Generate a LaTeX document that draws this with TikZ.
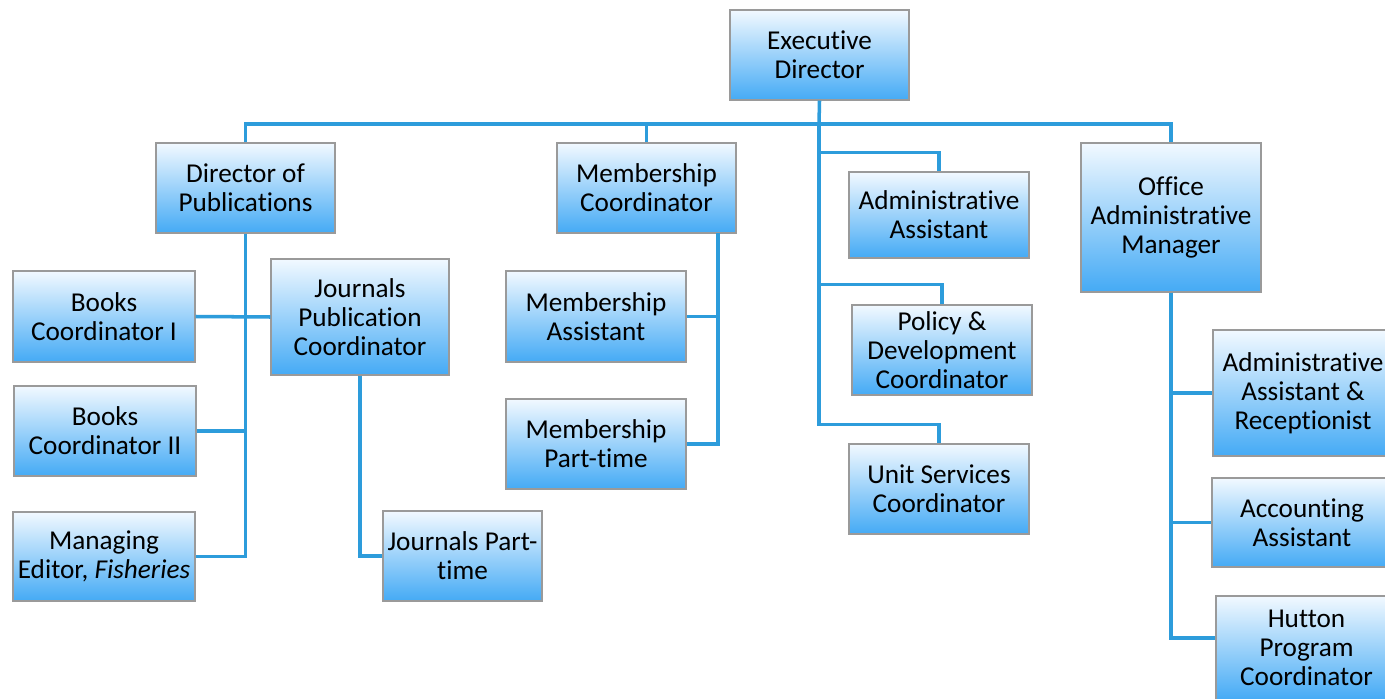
\documentclass[tikz,border=0pt]{standalone}
\usepackage{fontspec}
\setmainfont{Carlito}[Ligatures=NoCommon]
\usetikzlibrary{calc}
\definecolor{linkblue}{HTML}{2D9CDB}
\definecolor{boxtop}{HTML}{F2F9FF}
\definecolor{boxbot}{HTML}{44AAF5}
\definecolor{boxedge}{HTML}{9A9A9A}
\tikzset{
  orgnode/.style={draw=boxedge, line width=0.6pt, top color=boxtop, bottom color=boxbot,
    align=center, inner sep=0pt, font=\fontsize{15.5}{16.4}\selectfont},
  conn/.style={draw=linkblue, line width=2pt}
}
\newcommand\orgbox[6]{\node[orgnode, minimum width={(#4-#2)*0.02cm}, minimum height={(#5-#3)*0.02cm}] (#1) at ({(#2+#4)/2},{(#3+#5)/2}) {#6};}
\begin{document}
\begin{tikzpicture}[x=0.02cm, y=-0.02cm]
\useasboundingbox (0,0) rectangle (1385,699);
\fill[white] (0,0) rectangle (1385,699);
% boxes
\orgbox{ED}{730}{10}{909}{100}{Executive\\Director}
\orgbox{DoP}{156}{143}{335}{233}{Director of\\Publications}
\orgbox{MC}{557}{143}{736}{233}{Membership\\Coordinator}
\orgbox{AA}{849}{172}{1029}{258}{Administrative\\Assistant}
\orgbox{PDC}{852}{305}{1032}{395}{Policy \&\\Development\\Coordinator}
\orgbox{USC}{849}{444}{1029}{534}{Unit Services\\Coordinator}
\orgbox{OAM}{1081}{143}{1261}{292}{Office\\Administrative\\Manager}
\orgbox{BCa}{13}{271}{195}{362}{Books\\Coordinator I}
\orgbox{BCb}{14}{386}{196}{476}{Books\\Coordinator II}
\orgbox{ME}{13}{512}{195}{601}{Managing\\Editor, \textit{Fisheries}}
\orgbox{JPC}{271}{259}{449}{375}{Journals\\Publication\\Coordinator}
\orgbox{JPT}{383}{511}{542}{601}{Journals Part-\\time}
\orgbox{MA}{506}{271}{686}{362}{Membership\\Assistant}
\orgbox{MPT}{506}{399}{686}{489}{Membership\\Part-time}
\orgbox{AAR}{1213}{330}{1393}{456}{Administrative\\Assistant \&\\Receptionist}
\orgbox{AcA}{1212}{478}{1392}{567}{Accounting\\Assistant}
\orgbox{HPC}{1216}{596}{1397}{700}{Hutton\\Program\\Coordinator}
% connectors
\coordinate (hub) at (819,124);
\coordinate (mcdrop) at (718,233);
\draw[conn] (ED.south) -- (hub);
\draw[conn] (DoP.north) |- (hub) -| (OAM.north);
\draw[conn] (MC.north) -- (MC.north |- hub);
\draw[conn] (hub) |- ($(AA.north)+(0,-19)$) -- (AA.north);
\draw[conn] (hub) |- ($(PDC.north)+(0,-20)$) -- (PDC.north);
\draw[conn] (hub) |- ($(USC.north)+(0,-19)$) -- (USC.north);
% publications
\draw[conn] (DoP.south) |- (ME.east);
\draw[conn] (BCa.east) -- (JPC.west);
\draw[conn] (BCb.east) -- (BCb.east -| DoP.south);
\draw[conn] (JPC.south) |- (JPT.west);
% membership
\draw[conn] (mcdrop) |- (MPT.east);
\draw[conn] (MA.east) -- (MA.east -| mcdrop);
% office
\draw[conn] (OAM.south) |- (AAR.west);
\draw[conn] (OAM.south) |- (AcA.west);
\draw[conn] (OAM.south) |- ($(HPC.west)+(0,-10)$);
\end{tikzpicture}
\end{document}
